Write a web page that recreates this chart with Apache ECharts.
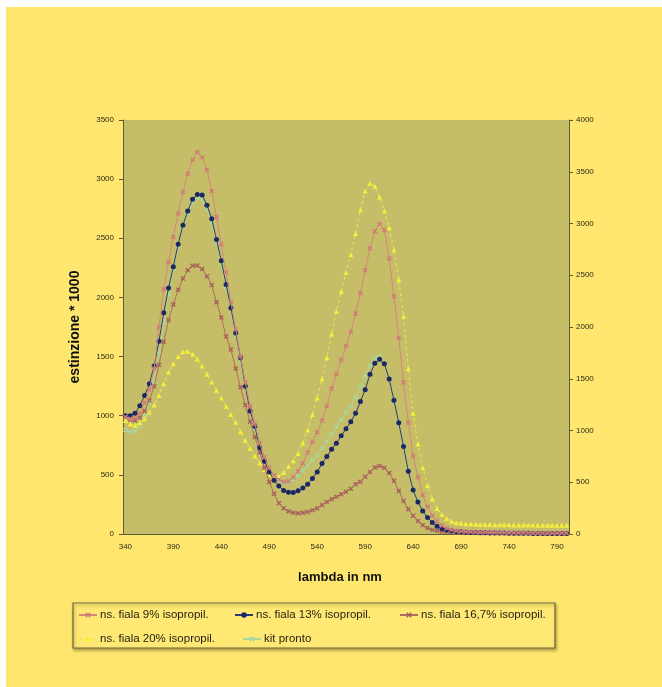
<!DOCTYPE html>
<html><head><meta charset="utf-8">
<script src="https://cdn.jsdelivr.net/npm/echarts@6/dist/echarts.min.js"></script>
<style>html,body{margin:0;padding:0;background:#fff}#c{width:662px;height:687px}</style>
</head><body><div id="c"></div>
<script>
const wavelengths = [340,345,350,355,360,365,370,375,380,385,390,395,400,405,410,415,420,425,430,435,440,445,450,455,460,465,470,475,480,485,490,495,500,505,510,515,520,525,530,535,540,545,550,555,560,565,570,575,580,585,590,595,600,605,610,615,620,625,630,635,640,645,650,655,660,665,670,675,680,685,690,695,700,705,710,715,720,725,730,735,740,745,750,755,760,765,770,775,780,785,790,795,800];
const leftTicks = {min:0, max:3500, step:500};
const rightTicks = {min:0, max:4000, step:500};
const names = ['ns. fiala 9% isopropil.','ns. fiala 13% isopropil.','ns. fiala 16,7% isopropil.','ns. fiala 20% isopropil.','kit pronto'];
const fiala9 = [990,975,980,1020,1110,1220,1400,1750,2070,2300,
 2510,2710,2890,3045,3165,3230,3185,3080,2900,2680,
 2450,2210,1960,1730,1500,1280,1080,930,770,650,
 560,495,460,440,445,480,530,598,690,780,
 860,960,1080,1231,1350,1470,1590,1710,1865,2035,
 2230,2415,2560,2620,2570,2330,2010,1660,1280,940,
 660,480,330,230,155,108,72,48,36,28,
 23,20,18,16,15,14,13,12,12,11,
 11,10,10,10,9,9,9,9,8,8,
 8,8,8];
const fiala13 = [1000,1000,1020,1085,1170,1270,1420,1630,1870,2080,
 2260,2450,2610,2730,2830,2870,2865,2780,2665,2490,
 2310,2110,1910,1700,1490,1250,1040,910,730,615,
 525,455,405,368,352,350,365,388,420,470,
 525,595,655,716,768,830,890,950,1020,1120,
 1220,1350,1443,1477,1440,1310,1130,940,740,530,
 372,270,195,140,98,65,45,34,27,22,
 18,15,13,12,11,10,9,9,8,8,
 7,7,6,6,6,5,5,5,5,4,
 4,4,4];
const fiala167 = [990,965,960,985,1040,1130,1250,1430,1625,1810,
 1940,2065,2160,2230,2268,2270,2240,2180,2105,1960,
 1830,1670,1560,1400,1240,1090,950,820,690,560,
 440,340,259,217,192,180,175,180,186,200,
 218,245,270,293,315,335,358,382,420,442,
 485,525,562,575,560,515,450,365,280,210,
 155,110,75,50,35,27,22,18,15,13,
 12,11,10,10,9,9,8,8,8,7,
 7,7,7,6,6,6,6,6,5,5,
 5,5,5];
const fiala20 = [960,930,920,940,975,1030,1090,1170,1270,1370,
 1440,1500,1540,1545,1520,1480,1420,1350,1285,1215,
 1150,1080,1010,945,865,790,725,660,600,545,
 505,485,490,520,570,620,680,770,880,1010,
 1150,1310,1490,1690,1880,2050,2210,2360,2540,2740,
 2900,2965,2940,2850,2730,2590,2400,2150,1840,1400,
 1020,760,560,410,295,215,165,130,108,96,
 90,86,84,82,81,80,80,79,79,78,
 78,77,77,76,76,76,75,75,75,74,
 74,74,74];
const kitPronto = [880,860,870,920,1000,1110,1290,1540,1790,2030,
 2240,2430,2590,2710,2800,2840,2830,2750,2630,2460,
 2280,2080,1880,1670,1460,1240,1040,890,735,620,
 540,482,448,432,438,462,495,535,578,622,
 668,725,785,845,905,965,1025,1085,1155,1245,
 1335,1425,1485,1500,1450,1315,1135,945,745,540,
 380,278,200,145,100,70,50,38,30,25,
 22,20,18,17,16,15,14,14,13,13,
 12,12,12,11,11,11,10,10,10,10,
 10,10,10];

const crossPath = 'path://M0,2 L2,0 L5,3 L8,0 L10,2 L7,5 L10,8 L8,10 L5,7 L2,10 L0,8 L3,5 Z';
const labelFont = {fontFamily:'"Liberation Sans Narrow","Liberation Sans",Arial,sans-serif', fontSize:8, color:'#2b2a18'};
const axisCol = '#5c5a32';
const plain = v => String(v);

const chart = echarts.init(document.getElementById('c'), null, {renderer:'canvas'});
function mkLegend(name, left, top){
  return {data:[name], left:left, top:top, padding:0, itemWidth:18, itemHeight:7, itemGap:0,
    textStyle:{fontFamily:'"Liberation Sans",Arial,sans-serif', fontSize:11.5, color:'#1f1e12', padding:[0,0,0,-2]}};
}
function mkSeries(name, data, z, symbol, lineColor, markColor, dash){
  return {name:name, type:'line', data:data, z:z, symbol:symbol, symbolSize:5, showAllSymbol:true, showSymbol:true,
    lineStyle:{color:lineColor, width:1, type:dash || 'solid'}, itemStyle:{color:markColor}};
}
const option = {
  backgroundColor:'#FFE76F',
  animation:false,
  grid:{left:123, top:120, width:446, height:414, containLabel:false, show:true, backgroundColor:'#C5BD68', borderWidth:0},
  graphic:[
    {type:'rect', shape:{x:0,y:0,width:662,height:7}, style:{fill:'#ffffff'}, z:100},
    {type:'rect', shape:{x:0,y:0,width:6,height:687}, style:{fill:'#ffffff'}, z:100},
    {type:'rect', shape:{x:73,y:603,width:482,height:45}, style:{fill:'#FFE873', stroke:'#6e6842', lineWidth:1.2, shadowBlur:3, shadowOffsetX:1, shadowOffsetY:2, shadowColor:'rgba(80,70,20,0.45)'}, z:-1},
    {type:'text', style:{text:'lambda in nm', x:340, y:577, align:'center', verticalAlign:'middle', fontFamily:'"Liberation Sans",Arial,sans-serif', fontWeight:'bold', fontSize:13, fill:'#111'}}
  ],
  legend:[
    mkLegend(names[0], 78, 609),
    mkLegend(names[1], 234, 609),
    mkLegend(names[2], 399, 609),
    mkLegend(names[3], 78, 633),
    mkLegend(names[4], 242, 633)
  ],
  xAxis:[
    {type:'category', data:wavelengths, boundaryGap:true, position:'bottom',
      axisLine:{lineStyle:{color:axisCol, width:1}},
      axisTick:{interval:0, length:3, lineStyle:{color:'#3a3822'}},
      axisLabel:{interval:9, margin:9, ...labelFont},
      splitLine:{show:false}},
    {type:'category', data:wavelengths, boundaryGap:true, position:'bottom', offset:0,
      axisLine:{show:false},
      axisTick:{interval:0, inside:true, length:3, lineStyle:{color:'#3a3822'}},
      axisLabel:{show:false}, splitLine:{show:false}}
  ],
  yAxis:[
    {type:'value', min:leftTicks.min, max:leftTicks.max, interval:leftTicks.step, position:'left',
      name:'estinzione * 1000', nameLocation:'middle', nameGap:41,
      nameTextStyle:{fontFamily:'"Liberation Sans",Arial,sans-serif', fontWeight:'bold', fontSize:14, color:'#111'},
      axisLine:{show:true, lineStyle:{color:axisCol}},
      axisTick:{show:true, length:4, lineStyle:{color:axisCol}},
      axisLabel:{margin:9, formatter:plain, ...labelFont}, splitLine:{show:false}},
    {type:'value', min:rightTicks.min, max:rightTicks.max, interval:rightTicks.step, position:'right',
      axisLine:{show:true, lineStyle:{color:axisCol}},
      axisTick:{show:true, length:4, lineStyle:{color:axisCol}},
      axisLabel:{margin:7, formatter:plain, ...labelFont}, splitLine:{show:false}}
  ],
  series:[
    mkSeries(names[4], kitPronto, 1, crossPath, '#A9D69A', '#A9D69A'),
    mkSeries(names[3], fiala20, 2, 'triangle', '#EDEA4A', '#F4F03A', [3,3]),
    mkSeries(names[2], fiala167, 3, crossPath, '#B06C62', '#A9605C'),
    mkSeries(names[1], fiala13, 4, 'circle', '#2A3A6E', '#1C2766'),
    mkSeries(names[0], fiala9, 5, crossPath, '#D4877A', '#CF7C74')
  ]
};
chart.setOption(option);
</script></body></html>
